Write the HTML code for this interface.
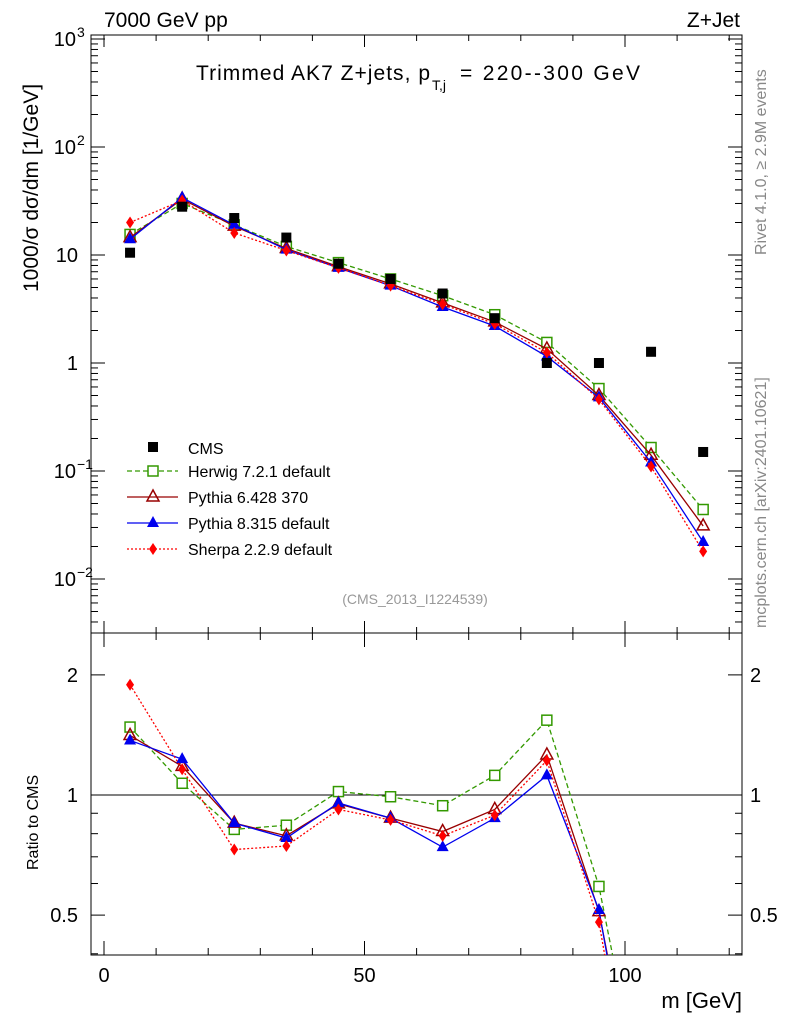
<!DOCTYPE html>
<html><head><meta charset="utf-8"><style>
html,body{margin:0;background:#fff;overflow:hidden;width:786px;height:1024px;}
svg{display:block;font-family:"Liberation Sans",sans-serif;}
</style></head><body>
<svg id="c" width="786" height="1024"></svg>
<script>
const bins=[5,15,25,35,45,55,65,75,85,95,105,115];
const cms=[10.5,28,22,14.5,8.3,6.0,4.4,2.6,1.0,1.0,1.27,0.15];
const herwig=[15.5,30,19,12,8.5,6.0,4.2,2.8,1.55,0.58,0.165,0.044];
const py6=[14.5,33,18.5,11.5,7.8,5.4,3.6,2.4,1.35,0.5,0.14,0.031];
const py8=[14,34,19,11.2,7.6,5.2,3.3,2.2,1.15,0.48,0.12,0.022];
const sherpa=[20,32,16,11,7.6,5.2,3.5,2.3,1.25,0.46,0.11,0.018];
const rHerwig=[1.48,1.07,0.82,0.84,1.02,0.99,0.94,1.12,1.54,0.59,0.13,0.29];
const rPy6=[1.41,1.18,0.85,0.79,0.95,0.875,0.81,0.92,1.26,0.51,0.11,0.2];
const rPy8=[1.37,1.23,0.85,0.78,0.955,0.875,0.74,0.875,1.12,0.515,0.095,0.15];
const rSherpa=[1.89,1.16,0.73,0.745,0.92,0.866,0.79,0.89,1.22,0.48,0.087,0.12];
const xTicks=[0,50,100];

const NS="http://www.w3.org/2000/svg";
const svg=document.getElementById('c');
const L=91,R=742,T=35,M=633,B=955;
const X=v=>104+(v-0)*5.21;
const Y=v=>363-Math.log10(v)*108;
const YR=v=>795-Math.log10(v)*399;
function el(t,a,p){const e=document.createElementNS(NS,t);for(const k in a)e.setAttribute(k,a[k]);(p||svg).appendChild(e);return e;}
function txt(x,y,s,o,p){const e=el('text',Object.assign({x:x,y:y,'font-size':19,fill:'#000'},o||{}),p);e.textContent=s;return e;}
const defs=el('defs',{});
const cp1=el('clipPath',{id:'cp1'},defs);el('rect',{x:L,y:T,width:R-L,height:M-T},cp1);
const cp2=el('clipPath',{id:'cp2'},defs);el('rect',{x:L,y:M,width:R-L,height:B-M},cp2);

const f1=el('rect',{x:L,y:T,width:R-L,height:M-T,fill:'none',stroke:'#000','stroke-width':1});

const f2=el('rect',{x:L,y:M,width:R-L,height:B-M,fill:'none',stroke:'#000','stroke-width':1});


for(let v=0;v<=120;v+=10){const big=v%50==0;
 [[M,M-(big?12:6)],[B,B-(big?14:7)],[T,T+(big?12:6)],[M,M+(big?14:7)]].forEach(p=>el('line',{x1:X(v),x2:X(v),y1:p[0],y2:p[1],stroke:'#000'}));}
xTicks.forEach(v=>{const t=txt(X(v),982,String(v),{'text-anchor':'middle','font-size':20});});
const xt=txt(742,1008,'m [GeV]',{'text-anchor':'end','font-size':22});

for(let d=-3;d<=3;d++){for(let k=1;k<10;k++){const v=k*Math.pow(10,d);const y=Y(v);if(y<T||y>M)continue;const w=k==1?14:7;
 el('line',{x1:L,x2:L+w,y1:y,y2:y,stroke:'#000'});el('line',{x1:R,x2:R-w,y1:y,y2:y,stroke:'#000'});}}
const yl=[[1000,'10','3'],[100,'10','2'],[10,'10',''],[1,'1',''],[0.1,'10','−1'],[0.01,'10','−2']];
yl.forEach(a=>{const y=Y(a[0])+7;const t=txt(a[2]?76:78,y,a[1],{'text-anchor':'end','font-size':20});
 if(a[2]){const s=txt(77,y-9,a[2],{'font-size':14});}});
const yt=txt(0,0,'1000/σ   dσ/dm [1/GeV]',{'font-size':21,transform:'translate(38,292) rotate(-90)','xml:space':'preserve'});


[0.4,0.5,0.6,0.7,0.8,0.9,1,2].forEach(v=>{const y=YR(v);if(y<M||y>B)return;const w=(v==0.5||v==1||v==2)?14:7;
 el('line',{x1:L,x2:L+w,y1:y,y2:y,stroke:'#000'});el('line',{x1:R,x2:R-w,y1:y,y2:y,stroke:'#000'});});
[[2,'2'],[1,'1'],[0.5,'0.5']].forEach(a=>{const y=YR(a[0])+7;
 const t=txt(78,y,a[1],{'text-anchor':'end','font-size':20});
 const t2=txt(750,y,a[1],{'font-size':20});});
const rt=txt(0,0,'Ratio to CMS',{'font-size':16,transform:'translate(38,870) rotate(-90)'});

el('line',{x1:L,x2:R,y1:YR(1),y2:YR(1),stroke:'#000'});

const a1=txt(104,27,'7000 GeV pp',{'font-size':21});
const a2=txt(740,27,'Z+Jet',{'font-size':21,'text-anchor':'end'});
const a3=txt(196,80,'Trimmed AK7 Z+jets, p',{'font-size':21,textLength:234});
const a4=txt(432,90,'T,j',{'font-size':14});
const a5=txt(460,80,'= 220--300 GeV',{'font-size':21,textLength:180});
const a6=txt(415,604,'(CMS_2013_I1224539)',{'font-size':14,fill:'#999','text-anchor':'middle'});
const a7=txt(0,0,'Rivet 4.1.0, ≥ 2.9M events',{'font-size':16,fill:'#888',transform:'translate(766,255) rotate(-90)'});
const a8=txt(0,0,'mcplots.cern.ch [arXiv:2401.10621]',{'font-size':16,fill:'#888',transform:'translate(766,628) rotate(-90)'});

function marker(g,type,x,y,col){
 if(type=='sq') el('rect',{x:x-5,y:y-5,width:10,height:10,fill:col},g);
 else if(type=='osq') el('rect',{x:x-5,y:y-5,width:10,height:10,fill:'#fff',stroke:col,'stroke-width':1.5},g);
 else if(type=='otri') el('polygon',{points:`${x},${y-7} ${x-6},${y+4} ${x+6},${y+4}`,fill:'none',stroke:col,'stroke-width':1.5},g);
 else if(type=='tri') el('polygon',{points:`${x},${y-7} ${x-6},${y+4} ${x+6},${y+4}`,fill:col},g);
 else if(type=='dia') el('polygon',{points:`${x},${y-6} ${x-4},${y} ${x},${y+6} ${x+4},${y}`,fill:col},g);}
const series=[
 {name:'herwig',vals:herwig,r:rHerwig,col:'#339900',dash:'5,3',m:'osq',label:'Herwig 7.2.1 default'},
 {name:'pythia6',vals:py6,r:rPy6,col:'#990000',dash:'',m:'otri',label:'Pythia 6.428 370'},
 {name:'pythia8',vals:py8,r:rPy8,col:'#0000ee',dash:'',m:'tri',label:'Pythia 8.315 default'},
 {name:'sherpa',vals:sherpa,r:rSherpa,col:'#ff0000',dash:'2,2',m:'dia',label:'Sherpa 2.2.9 default'}];
series.forEach(s=>{
 const g=el('g',{'clip-path':'url(#cp1)'});
 el('polyline',{points:bins.map((b,i)=>X(b)+','+Y(s.vals[i])).join(' '),fill:'none',stroke:s.col,'stroke-width':1.3,'stroke-dasharray':s.dash},g);
 bins.forEach((b,i)=>marker(g,s.m,X(b),Y(s.vals[i]),s.col));
 const g2=el('g',{'clip-path':'url(#cp2)'});
 el('polyline',{points:bins.map((b,i)=>X(b)+','+YR(s.r[i])).join(' '),fill:'none',stroke:s.col,'stroke-width':1.3,'stroke-dasharray':s.dash},g2);
 bins.forEach((b,i)=>marker(g2,s.m,X(b),YR(s.r[i]),s.col));});
const gc=el('g',{'clip-path':'url(#cp1)'});
bins.forEach((b,i)=>marker(gc,'sq',X(b),Y(cms[i]),'#000'));

const lg=el('g',{});
const e0=el('g',{},lg);
marker(e0,'sq',153,447,'#000');txt(188,454,'CMS',{'font-size':16},e0);
series.forEach((s,i)=>{const y=471+i*26;const e=el('g',{},lg);
 el('line',{x1:127,x2:178,y1:y,y2:y,stroke:s.col,'stroke-width':1.3,'stroke-dasharray':s.dash},e);marker(e,s.m,153,y,s.col);
 txt(188,y+6,s.label,{'font-size':16},e);});
</script>
</body></html>
